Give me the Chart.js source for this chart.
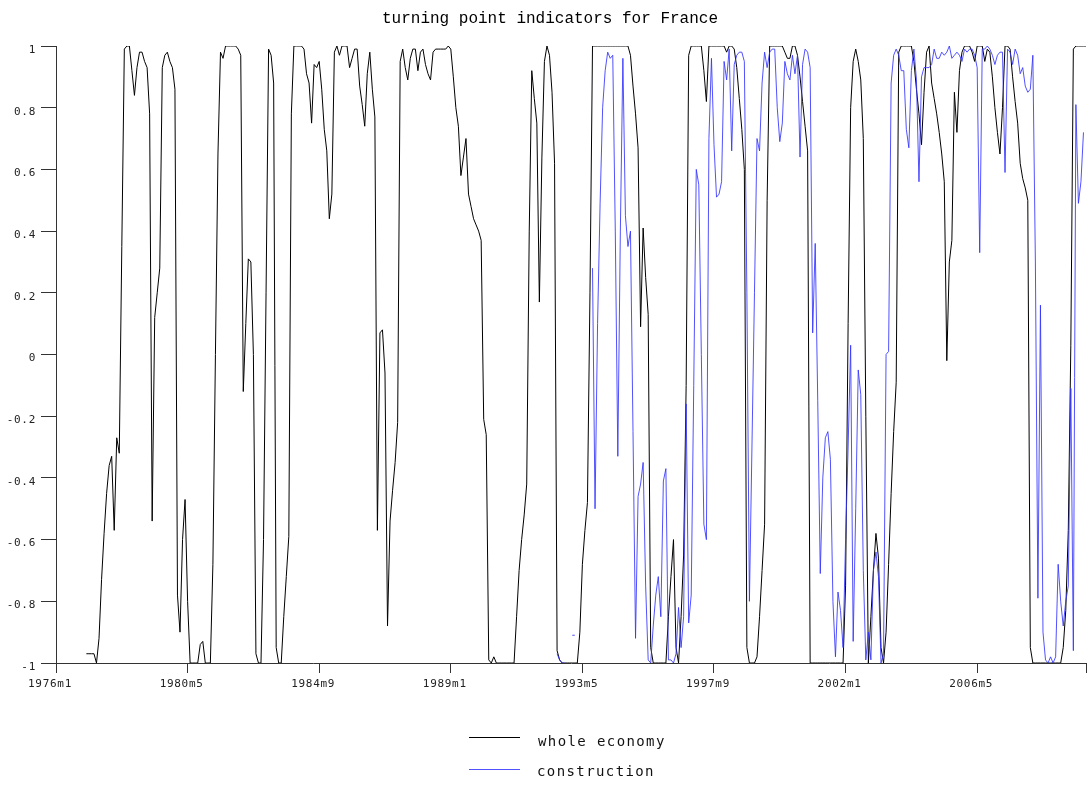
<!DOCTYPE html>
<html>
<head>
<meta charset="utf-8">
<title>turning point indicators for France</title>
<script src="https://cdn.jsdelivr.net/npm/chart.js@4.4.1/dist/chart.umd.min.js"></script>
<style>
  html, body { margin: 0; padding: 0; background: #fff; }
  #wrap { width: 1091px; height: 785px; }
</style>
</head>
<body>
<div id="wrap"><canvas id="tpChart" width="1091" height="785"></canvas></div>
<script>
// Turning point indicators for France, monthly from 1976m1 to 2009m12
const titleText = 'turning point indicators for France';
const firstYear = 1976;
const lastYear = 2009;
const tickEvery = 52; // a labelled tick every 52 months

const seriesNames = ['whole economy', 'construction'];

// one row per year, Jan..Dec
const wholeEconomy = [
  null, null, null, null, null, null, null, null, null, null, null, null,
  -0.97, -0.97, -0.97, -0.97, -1.00, -0.92, -0.73, -0.58, -0.45, -0.36, -0.33, -0.57,
  -0.27, -0.32, 0.35, 0.99, 1.00, 1.00, 0.92, 0.84, 0.93, 0.98, 0.98, 0.95,
  0.93, 0.78, -0.54, 0.12, 0.20, 0.28, 0.93, 0.97, 0.98, 0.95, 0.93, 0.86,
  -0.78, -0.90, -0.60, -0.47, -0.80, -1.00, -1.00, -1.00, -1.00, -0.94, -0.93, -1.00,
  -1.00, -1.00, -0.68, 0.00, 0.65, 0.98, 0.96, 1.00, 1.00, 1.00, 1.00, 1.00,
  0.99, 0.97, -0.12, 0.10, 0.31, 0.30, 0.00, -0.97, -1.00, -1.00, -0.60, 0.20,
  0.99, 0.97, 0.88, -0.95, -1.00, -1.00, -0.85, -0.72, -0.59, 0.78, 1.00, 1.00,
  1.00, 1.00, 0.99, 0.91, 0.88, 0.75, 0.94, 0.93, 0.95, 0.86, 0.73, 0.66,
  0.44, 0.52, 0.98, 1.00, 0.97, 1.00, 1.00, 1.00, 0.93, 0.96, 0.99, 0.99,
  0.87, 0.81, 0.74, 0.91, 0.98, 0.86, 0.77, -0.57, 0.07, 0.08, -0.06, -0.88,
  -0.54, -0.44, -0.35, -0.22, 0.95, 0.99, 0.93, 0.89, 0.96, 0.99, 0.99, 0.92,
  0.98, 0.99, 0.94, 0.91, 0.89, 0.98, 0.99, 0.99, 0.99, 0.99, 0.99, 1.00,
  0.99, 0.90, 0.80, 0.74, 0.58, 0.64, 0.70, 0.52, 0.48, 0.44, 0.42, 0.40,
  0.37, -0.21, -0.26, -0.99, -1.00, -0.98, -1.00, -1.00, -1.00, -1.00, -1.00, -1.00,
  -1.00, -1.00, -0.85, -0.70, -0.60, -0.52, -0.42, 0.40, 0.92, 0.83, 0.75, 0.17,
  0.64, 0.95, 1.00, 0.97, 0.85, 0.62, -0.96, -0.99, -1.00, -1.00, -1.00, -1.00,
  -1.00, -1.00, -1.00, -0.90, -0.68, -0.57, -0.48, 0.20, 1.00, 1.00, 1.00, 1.00,
  1.00, 1.00, 1.00, 1.00, 1.00, 1.00, 1.00, 1.00, 1.00, 1.00, 1.00, 0.97,
  0.87, 0.78, 0.67, 0.09, 0.41, 0.25, 0.13, -0.95, -1.00, -1.00, -1.00, -1.00,
  -1.00, -1.00, -0.85, -0.72, -0.60, -0.95, -1.00, -0.85, -0.65, -0.10, 0.97, 1.00,
  1.00, 1.00, 1.00, 1.00, 0.92, 0.82, 1.00, 1.00, 1.00, 1.00, 1.00, 1.00,
  1.00, 0.98, 1.00, 1.00, 0.99, 0.93, 0.83, 0.73, 0.60, -0.95, -1.00, -1.00,
  -1.00, -0.98, -0.85, -0.70, -0.55, 0.50, 1.00, 1.00, 1.00, 1.00, 1.00, 1.00,
  0.98, 0.96, 0.96, 1.00, 1.00, 0.97, 0.90, 0.82, 0.74, 0.66, -1.00, -1.00,
  -1.00, -1.00, -1.00, -1.00, -1.00, -1.00, -1.00, -1.00, -1.00, -1.00, -1.00, -1.00,
  -0.75, 0.10, 0.80, 0.95, 0.99, 0.95, 0.89, 0.70, -0.20, -1.00, -0.85, -0.70,
  -0.58, -0.66, -0.95, -1.00, -0.90, -0.68, -0.45, -0.25, -0.09, 0.98, 1.00, 1.00,
  1.00, 1.00, 1.00, 0.95, 0.86, 0.78, 0.68, 0.85, 0.98, 1.00, 0.88, 0.83,
  0.78, 0.72, 0.65, 0.56, -0.02, 0.30, 0.37, 0.85, 0.72, 0.92, 0.98, 1.00,
  1.00, 1.00, 0.98, 0.95, 1.00, 1.00, 1.00, 0.95, 0.99, 0.98, 0.90, 0.80,
  0.72, 0.65, 0.80, 1.00, 1.00, 0.99, 0.90, 0.82, 0.75, 0.62, 0.57, 0.54,
  0.50, -0.95, -1.00, -1.00, -1.00, -1.00, -1.00, -1.00, -1.00, -1.00, -1.00, -1.00,
  -1.00, -1.00, -0.95, -0.83, -0.57, 0.03, 0.99, 1.00, 1.00, 1.00, 1.00, 1.00
];

const construction = [
  null, null, null, null, null, null, null, null, null, null, null, null,
  null, null, null, null, null, null, null, null, null, null, null, null,
  null, null, null, null, null, null, null, null, null, null, null, null,
  null, null, null, null, null, null, null, null, null, null, null, null,
  null, null, null, null, null, null, null, null, null, null, null, null,
  null, null, null, null, null, null, null, null, null, null, null, null,
  null, null, null, null, null, null, null, null, null, null, null, null,
  null, null, null, null, null, null, null, null, null, null, null, null,
  null, null, null, null, null, null, null, null, null, null, null, null,
  null, null, null, null, null, null, null, null, null, null, null, null,
  null, null, null, null, null, null, null, null, null, null, null, null,
  null, null, null, null, null, null, null, null, null, null, null, null,
  null, null, null, null, null, null, null, null, null, null, null, null,
  null, null, null, null, null, null, null, null, null, null, null, null,
  null, null, null, null, null, null, null, null, null, null, null, null,
  null, null, null, null, null, null, null, null, null, null, null, null,
  null, null, null, null, null, null, -0.97, -0.99, -1.00, -1.00, null, null,
  -0.91, -0.91, null, null, null, null, null, null, 0.28, -0.50, 0.10, 0.49,
  0.80, 0.92, 0.98, 0.96, 0.97, 0.40, -0.33, 0.40, 0.96, 0.45, 0.35, 0.40,
  -0.25, -0.92, -0.46, -0.42, -0.35, -0.75, -0.99, -1.00, -0.88, -0.78, -0.72, -0.85,
  -0.41, -0.37, -0.99, -0.99, -1.00, -0.97, -0.82, -0.95, -0.85, -0.16, -0.87, -0.78,
  -0.10, 0.60, 0.55, 0.00, -0.55, -0.60, 0.70, 0.96, 0.68, 0.51, 0.52, 0.56,
  0.95, 0.89, 0.99, 0.66, 0.94, 0.97, 0.98, 0.98, 0.95, 0.20, -0.80, -0.30,
  0.20, 0.70, 0.66, 0.88, 0.98, 0.93, 0.98, 0.99, 0.99, 0.80, 0.69, 0.75,
  0.95, 0.91, 0.89, 0.97, 0.91, 0.97, 0.64, 0.94, 0.99, 0.98, 0.93, 0.07,
  0.36, -0.15, -0.71, -0.40, -0.27, -0.25, -0.34, -0.80, -0.98, -0.77, -0.83, -0.95,
  -0.60, -0.30, 0.03, -0.93, -0.50, -0.05, -0.13, -0.70, -0.99, -0.90, -0.99, -0.70,
  -0.64, -0.72, -1.00, -0.97, 0.00, 0.01, 0.88, 0.97, 0.99, 0.97, 0.92, 0.92,
  0.73, 0.67, 0.92, 0.99, 0.89, 0.56, 0.90, 0.93, 0.93, 0.93, 0.94, 0.99,
  0.96, 0.96, 0.98, 0.97, 0.98, 1.00, 0.96, 0.97, 0.98, 0.97, 0.95, 0.99,
  0.98, 0.99, 0.99, 0.97, 0.93, 0.33, 0.99, 0.99, 1.00, 0.99, 0.97, 0.94,
  0.97, 0.98, 0.98, 0.59, 0.99, 0.98, 0.94, 0.99, 0.97, 0.91, 0.93, 0.87,
  0.85, 0.86, 0.97, 0.30, -0.79, 0.16, -0.90, -0.99, -1.00, -0.98, -1.00, -0.98,
  -0.68, -0.80, -0.88, -0.80, -0.75, -0.11, -0.96, 0.81, 0.49, 0.56, 0.72, null
];

// month labels 1976m1 ... 2009m12
const months = [];
for (let y = firstYear; y <= lastYear; y++) {
  for (let m = 1; m <= 12; m++) months.push(y + 'm' + m);
}

const monoFont = "'DejaVu Sans Mono', 'Liberation Mono', monospace";
const axisColor = '#333';
const blue = 'rgba(50, 50, 255, 0.85)';

// spaced-out axis text, plus title and legend drawn by hand
const textPlugin = {
  id: 'textPlugin',
  beforeLayout(chart) { chart.ctx.letterSpacing = '0.7px'; },
  beforeDraw(chart) { chart.ctx.letterSpacing = '0.7px'; },
  afterDraw(chart) {
    const ctx = chart.ctx;
    ctx.save();
    ctx.letterSpacing = '0px';
    ctx.fillStyle = '#000';
    ctx.font = "16px 'Liberation Mono', 'DejaVu Sans Mono', monospace";
    ctx.textAlign = 'center';
    ctx.textBaseline = 'alphabetic';
    ctx.fillText(titleText, 550, 23);

    // legend
    ctx.lineWidth = 1;
    ctx.strokeStyle = '#000';
    ctx.beginPath(); ctx.moveTo(469, 737.5); ctx.lineTo(520, 737.5); ctx.stroke();
    ctx.strokeStyle = blue;
    ctx.beginPath(); ctx.moveTo(469, 769.5); ctx.lineTo(520, 769.5); ctx.stroke();

    ctx.letterSpacing = '1.4px';
    ctx.font = '14px ' + monoFont;
    ctx.fillStyle = '#111';
    ctx.textAlign = 'left';
    ctx.fillText(seriesNames[0], 538, 746);
    ctx.fillText(seriesNames[1], 537, 776);
    ctx.restore();
  }
};

new Chart(document.getElementById('tpChart'), {
  type: 'line',
  data: {
    labels: months,
    datasets: [
      {
        label: seriesNames[0],
        data: wholeEconomy,
        borderColor: '#000',
        borderWidth: 1,
        pointRadius: 0,
        tension: 0,
        order: 1
      },
      {
        label: seriesNames[1],
        data: construction,
        borderColor: blue,
        borderWidth: 1,
        pointRadius: 0,
        tension: 0,
        order: 0
      }
    ]
  },
  options: {
    responsive: false,
    animation: false,
    spanGaps: false,
    layout: { padding: { top: 46, right: 4, bottom: 82, left: 0 } },
    plugins: {
      legend: { display: false },
      title: { display: false },
      tooltip: { enabled: false }
    },
    scales: {
      x: {
        type: 'category',
        afterFit(scale) { scale.height = 40; },
        grid: { drawOnChartArea: false, color: axisColor, tickLength: 10 },
        border: { display: true, color: axisColor },
        ticks: {
          autoSkip: false,
          maxRotation: 0,
          padding: 5,
          labelOffset: -6,
          color: '#222',
          font: { family: monoFont, size: 11 },
          callback(val, idx) {
            if (idx % tickEvery === 0) return months[idx];
            if (idx === months.length - 1) return '';
            return null;
          }
        }
      },
      y: {
        min: -1,
        max: 1,
        afterFit(scale) { scale.width = 56; },
        grid: { drawOnChartArea: false, color: axisColor, tickLength: 15 },
        border: { display: true, color: axisColor },
        ticks: {
          stepSize: 0.2,
          padding: 5,
          labelOffset: 4,
          color: '#222',
          font: { family: monoFont, size: 11 },
          callback: v => String(Math.round(v * 10) / 10)
        }
      }
    }
  },
  plugins: [textPlugin]
});
</script>
</body>
</html>
